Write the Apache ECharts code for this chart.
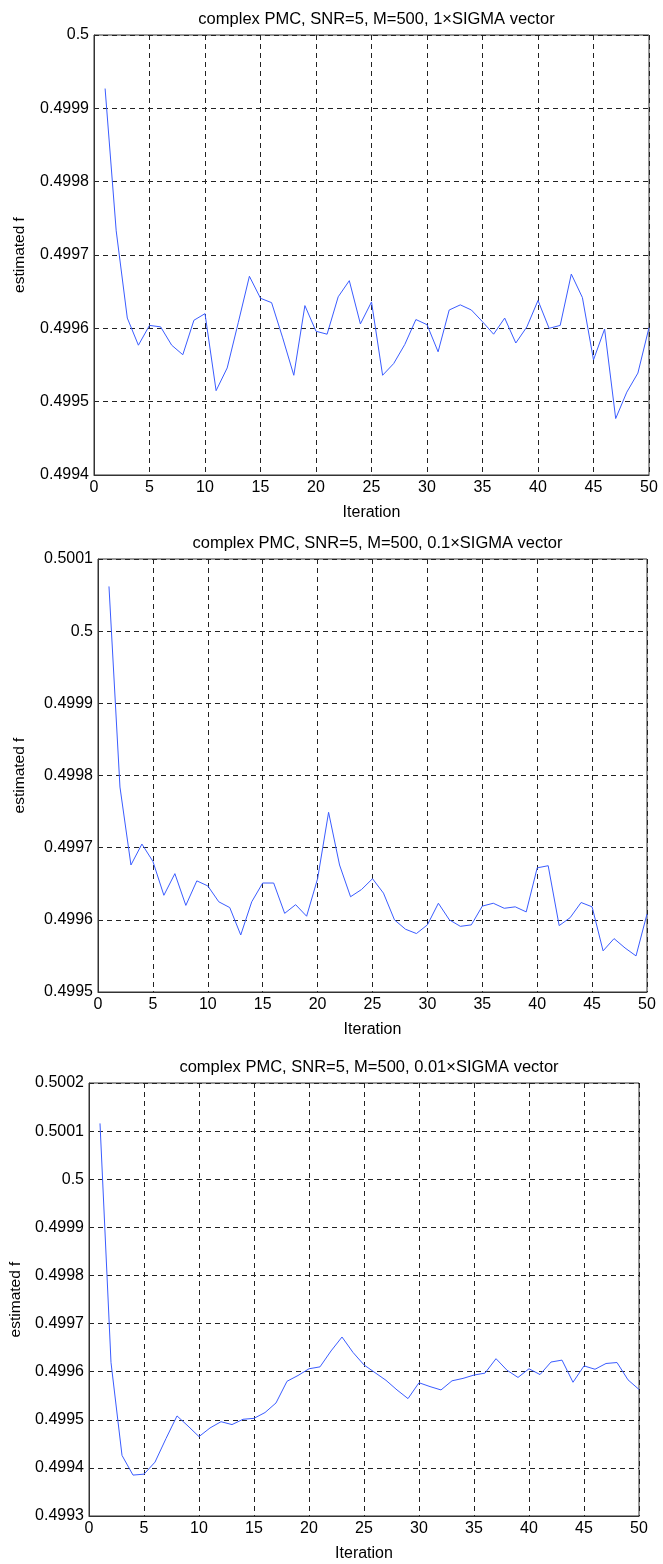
<!DOCTYPE html>
<html>
<head>
<meta charset="utf-8">
<script src="https://cdn.jsdelivr.net/npm/echarts@6/dist/echarts.min.js"></script>
<style>
html,body{margin:0;padding:0;background:#fff;}
#c{width:663px;height:1564px;}
</style>
</head>
<body>
<div id="c"></div>
<script>
var iterations = [1,2,3,4,5,6,7,8,9,10,11,12,13,14,15,16,17,18,19,20,21,22,23,24,25,26,27,28,29,30,31,32,33,34,35,36,37,38,39,40,41,42,43,44,45,46,47,48,49,50];

var titles = [
  'complex PMC, SNR=5, M=500, 1\u00d7SIGMA vector',
  'complex PMC, SNR=5, M=500, 0.1\u00d7SIGMA vector',
  'complex PMC, SNR=5, M=500, 0.01\u00d7SIGMA vector'
];

var sigma1 = [0.499927,0.499733,0.499614,0.499577,0.499604,0.499602,0.499577,0.499564,0.499611,0.499620,
              0.499515,0.499546,0.499608,0.499671,0.499641,0.499635,0.499587,0.499536,0.499631,0.499596,
              0.499592,0.499643,0.499665,0.499606,0.499636,0.499536,0.499552,0.499578,0.499612,0.499605,
              0.499568,0.499625,0.499632,0.499625,0.499609,0.499592,0.499614,0.499580,0.499602,0.499638,
              0.499600,0.499604,0.499674,0.499642,0.499557,0.499599,0.499477,0.499513,0.499539,0.499601];

var sigma01 = [0.500062,0.499784,0.499676,0.499705,0.499681,0.499634,0.499664,0.499620,0.499654,0.499647,
               0.499625,0.499617,0.499579,0.499625,0.499651,0.499651,0.499609,0.499621,0.499605,0.499657,
               0.499749,0.499676,0.499632,0.499642,0.499657,0.499637,0.499600,0.499587,0.499581,0.499593,
               0.499623,0.499600,0.499591,0.499593,0.499619,0.499623,0.499616,0.499618,0.499611,0.499672,
               0.499675,0.499592,0.499603,0.499624,0.499618,0.499557,0.499574,0.499561,0.499550,0.499608];

var sigma001 = [0.500116,0.499619,0.499426,0.499385,0.499387,0.499412,0.499461,0.499508,0.499487,0.499465,
                0.499483,0.499496,0.499490,0.499501,0.499503,0.499515,0.499535,0.499580,0.499592,0.499606,
                0.499610,0.499643,0.499672,0.499640,0.499614,0.499598,0.499582,0.499562,0.499544,0.499577,
                0.499569,0.499562,0.499581,0.499586,0.499593,0.499597,0.499627,0.499603,0.499588,0.499606,
                0.499594,0.499620,0.499624,0.499578,0.499612,0.499605,0.499617,0.499619,0.499583,0.499563];

var yMins = [0.4994, 0.4995, 0.4993];
var yMaxs = [0.5000, 0.5001, 0.5002];
var xTicks = [0,5,10,15,20,25,30,35,40,45,50];

var seriesData = [sigma1, sigma01, sigma001];

var grids = [
  {left: 94, right: 14, top: 35, height: 440},
  {left: 98, right: 16, top: 559, height: 433},
  {left: 89, right: 24, top: 1083, height: 433}
];

var font = '"Liberation Sans", Arial, Helvetica, sans-serif';
var dash = {color: '#222', type: [5, 4], width: 1};

var option = {
  backgroundColor: '#fff',
  animation: false,
  title: [], grid: [], xAxis: [], yAxis: [], series: []
};

for (var k = 0; k < 3; k++) {
  var g = grids[k];
  option.title.push({
    text: titles[k],
    left: g.left + (663 - g.left - g.right) / 2,
    textAlign: 'center',
    top: g.top - 29,
    textStyle: {fontFamily: font, fontSize: 16.5, fontWeight: 'normal', color: '#000'}
  });
  option.grid.push({
    left: g.left, right: g.right, top: g.top, height: g.height,
    show: true, borderColor: '#333', borderWidth: 1, backgroundColor: '#fff'
  });
  option.xAxis.push({
    type: 'value', gridIndex: k, min: xTicks[0], max: xTicks[xTicks.length - 1], interval: 5,
    name: 'Iteration', nameLocation: 'middle', nameGap: 30,
    nameTextStyle: {fontFamily: font, fontSize: 16, color: '#000'},
    axisLine: {show: true, lineStyle: {color: '#333'}},
    axisTick: {show: false},
    axisLabel: {fontFamily: font, fontSize: 16, color: '#000', margin: 5},
    splitLine: {show: true, lineStyle: dash}
  });
  option.yAxis.push({
    type: 'value', gridIndex: k, min: yMins[k], max: yMaxs[k], interval: 0.0001,
    name: 'estimated f', nameLocation: 'middle', nameGap: 66 + (g.left - 94),
    nameTextStyle: {fontFamily: font, fontSize: 15.5, color: '#000'},
    axisLine: {show: true, lineStyle: {color: '#333'}},
    axisTick: {show: false},
    axisLabel: {fontFamily: font, fontSize: 16, color: '#000', margin: 5,
      formatter: function (v) { return String(parseFloat(v.toFixed(4))); }},
    splitLine: {show: true, lineStyle: dash}
  });
  var d = [];
  for (var i = 0; i < iterations.length; i++) d.push([iterations[i], seriesData[k][i]]);
  option.series.push({
    type: 'line', xAxisIndex: k, yAxisIndex: k, data: d,
    showSymbol: false, symbol: 'none',
    lineStyle: {color: '#3a5cff', width: 1},
    z: 5
  });
}

var chart = echarts.init(document.getElementById('c'), null, {renderer: 'canvas'});
chart.setOption(option);
</script>
</body>
</html>
